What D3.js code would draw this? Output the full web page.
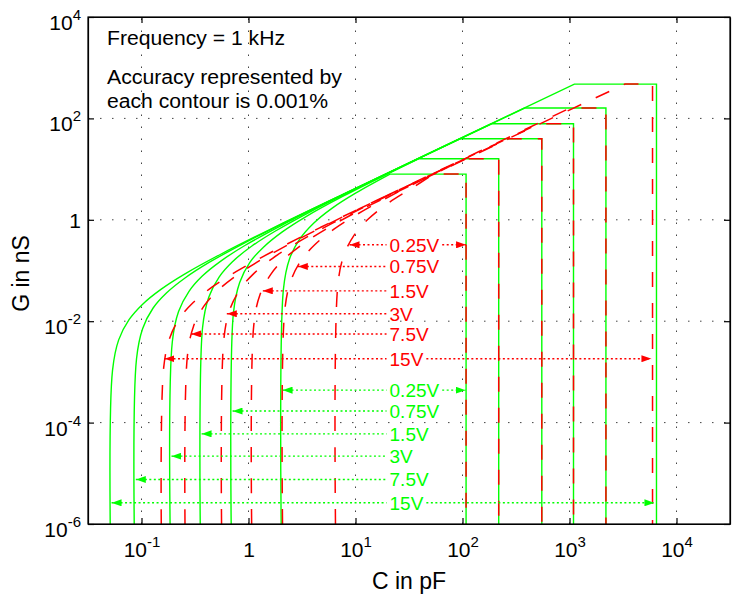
<!DOCTYPE html>
<html lang="en">
<head>
  <meta charset="UTF-8">
  <title>G vs C accuracy contours</title>
  <script src="https://d3js.org/d3.v7.min.js"></script>
  <style>
    body { margin: 0; background: #ffffff; }
    svg { font-family: "Liberation Sans", Arial, Helvetica, sans-serif; }
    .axis path, .axis line { stroke: #000; stroke-width: 1.2; }
    .axis text { fill: #000; font-size: 21px; }
    .grid line { stroke: #444; stroke-width: 1; stroke-dasharray: 1.5,10.5; }
    .green-contour { fill: none; stroke: #00ff00; stroke-width: 1.4; }
    .red-contour { fill: none; stroke: #ff0000; stroke-width: 1.5; stroke-dasharray: 15,16; }
    .arrow { stroke-width: 1.4; stroke-dasharray: 2,2.5; }
    .arrow-label { font-size: 19px; }
    .note { font-size: 20px; fill: #000; }
    .axis-title { font-size: 23px; fill: #000; }
  </style>
</head>
<body>
<script>
// voltages, one contour per voltage (same order everywhere below)
const voltages = ["0.25V", "0.75V", "1.5V", "3V", "7.5V", "15V"];

// green solid contours, points as [C in pF, G in nS]
const green025 = [[2.02, 1e-6], [2.12, 0.0424], [2.42, 0.17], [3.03, 0.424], [4.04, 0.848], [6.06, 1.70], [10.1, 3.39], [21.0, 7.97], [108, 7.97], [108, 1e-6]];
const green075 = [[0.689, 1e-6], [0.723, 0.0145], [0.827, 0.0579], [1.03, 0.145], [1.38, 0.289], [2.07, 0.579], [3.45, 1.16], [7.58, 2.89], [38.8, 16.0], [218, 16.0], [218, 1e-6]];
const green15 = [[0.354, 1e-6], [0.372, 0.00743], [0.425, 0.0297], [0.531, 0.0743], [0.708, 0.149], [1.06, 0.297], [1.77, 0.595], [3.89, 1.49], [11.0, 4.46], [94.6, 39.6], [551, 39.6], [551, 1e-6]];
const green3 = [[0.185, 1e-6], [0.194, 0.00389], [0.222, 0.0155], [0.278, 0.0389], [0.37, 0.0777], [0.555, 0.155], [0.925, 0.311], [2.04, 0.777], [5.74, 2.33], [18.7, 7.77], [187, 78.3], [1090, 78.3], [1090, 1e-6]];
const green7p5 = [[0.0855, 1e-6], [0.0898, 0.0018], [0.1026, 0.00718], [0.128, 0.018], [0.171, 0.0359], [0.257, 0.0718], [0.428, 0.144], [0.941, 0.359], [2.65, 1.08], [8.64, 3.59], [381, 160], [2190, 160], [2190, 1e-6]];
const green15V = [[0.051, 1e-6], [0.0536, 0.00107], [0.0612, 0.00428], [0.0765, 0.0107], [0.102, 0.0214], [0.153, 0.0428], [0.255, 0.0857], [0.561, 0.214], [1.58, 0.643], [5.15, 2.14], [1110, 475], [6500, 475], [6500, 1e-6]];

// red dashed contours, points as [C in pF, G in nS]
const red025 = [[6.5, 1e-6], [6.83, 0.0504], [7.8, 0.2015], [9.75, 0.504], [13.0, 1.01], [19.5, 2.02], [32.5, 4.03], [54, 7.97], [108, 7.97], [108, 1e-6]];
const red075 = [[2.08, 1e-6], [2.18, 0.0161], [2.5, 0.0645], [3.12, 0.161], [4.16, 0.322], [6.24, 0.645], [10.4, 1.29], [22.9, 3.22], [106, 16.0], [218, 16.0], [218, 1e-6]];
const red15 = [[1.07, 1e-6], [1.12, 0.0083], [1.28, 0.0332], [1.61, 0.083], [2.14, 0.166], [3.21, 0.332], [5.35, 0.663], [11.8, 1.66], [270, 39.6], [551, 39.6], [551, 1e-6]];
const red3 = [[0.56, 1e-6], [0.588, 0.00434], [0.672, 0.0174], [0.84, 0.0434], [1.12, 0.0868], [1.68, 0.174], [2.8, 0.347], [6.16, 0.868], [17.4, 2.6], [515, 78.3], [1090, 78.3], [1090, 1e-6]];
const red7p5 = [[0.255, 1e-6], [0.268, 0.00198], [0.306, 0.0079], [0.383, 0.0198], [0.51, 0.0395], [0.765, 0.079], [1.28, 0.158], [2.81, 0.395], [7.91, 1.19], [25.8, 3.95], [1010, 160], [2190, 160], [2190, 1e-6]];
const red15V = [[0.153, 1e-6], [0.161, 0.00119], [0.184, 0.00474], [0.23, 0.0119], [0.306, 0.0237], [0.459, 0.0474], [0.765, 0.0949], [1.68, 0.237], [4.74, 0.712], [15.5, 2.37], [3300, 475], [5970, 475], [5970, 1e-6]];

const greenContours = [green025, green075, green15, green3, green7p5, green15V];
const redContours = [red025, red075, red15, red3, red7p5, red15V];

// range arrows: G level, left end C, right end C (null = no right arrow)
const redArrowG = [0.321, 0.12, 0.0397, 0.014, 0.0056, 0.00182];
const redArrowLeft = [8.79, 2.89, 1.36, 0.627, 0.291, 0.164];
const redArrowRight = [108, null, null, null, null, 5830];
const greenArrowG = [4.37e-4, 1.69e-4, 6.0e-5, 2.18e-5, 7.55e-6, 2.62e-6];
const greenArrowLeft = [2.08, 0.709, 0.364, 0.1905, 0.0885, 0.0525];
const greenArrowRight = [106.8, null, null, null, null, 6220];
const labelC = 20.8;

// ticks
const xTicks = [0.1, 1, 10, 100, 1000, 10000];
const xTickLabels = ["10^-1", "1", "10^1", "10^2", "10^3", "10^4"];
const yTicks = [1e-6, 1e-4, 1e-2, 1, 1e2, 1e4];
const yTickLabels = ["10^-6", "10^-4", "10^-2", "1", "10^2", "10^4"];

const W = 749, H = 596;
const plotLeft = 88, plotRight = 730, plotTop = 17, plotBottom = 524;

const svg = d3.select("body").append("svg")
  .attr("width", W)
  .attr("height", H);

const x = d3.scaleLog().domain([Math.pow(10, -1.5), Math.pow(10, 4.5)]).range([plotLeft, plotRight]);
const y = d3.scaleLog().domain([1e-6, 1e4]).range([plotBottom, plotTop]);

// clip
svg.append("clipPath").attr("id", "plotclip")
  .append("rect")
  .attr("x", plotLeft).attr("y", plotTop)
  .attr("width", plotRight - plotLeft).attr("height", plotBottom - plotTop);

// grid
const grid = svg.append("g").attr("class", "grid");
grid.selectAll(".gx")
  .data(xTicks)
  .enter().append("line")
  .attr("x1", d => x(d)).attr("x2", d => x(d))
  .attr("y1", plotBottom).attr("y2", plotTop);
grid.selectAll(".gy")
  .data(yTicks.filter(d => d > 1e-6 && d < 1e4))
  .enter().append("line")
  .attr("x1", plotLeft).attr("x2", plotRight)
  .attr("y1", d => y(d)).attr("y2", d => y(d));

// markers
const defs = svg.append("defs");
[["arrowRed", "#ff0000"], ["arrowGreen", "#00ff00"]].forEach(function (m) {
  defs.append("marker")
    .attr("id", m[0])
    .attr("viewBox", "0 0 10 7")
    .attr("refX", 10).attr("refY", 3.5)
    .attr("markerWidth", 10).attr("markerHeight", 7)
    .attr("markerUnits", "userSpaceOnUse")
    .attr("orient", "auto-start-reverse")
    .append("path")
    .attr("d", "M0,0L10,3.5L0,7Z")
    .attr("fill", m[1]);
});

// contours
const curveLine = d3.line()
  .x(d => x(d[0]))
  .y(d => y(d[1]))
  .curve(d3.curveCatmullRom.alpha(0.5));

function contourPath(pts) {
  const curvePart = pts.slice(0, -2);
  const rest = pts.slice(-2).map(p => "L" + x(p[0]) + "," + y(p[1])).join("");
  return curveLine(curvePart) + rest;
}

const plot = svg.append("g").attr("clip-path", "url(#plotclip)");

plot.selectAll(".green-contour")
  .data(greenContours)
  .enter().append("path")
  .attr("class", "green-contour")
  .attr("d", contourPath);

plot.selectAll(".red-contour")
  .data(redContours)
  .enter().append("path")
  .attr("class", "red-contour")
  .attr("d", contourPath);

// arrows + labels
function drawArrows(gVals, lefts, rights, color, marker) {
  const g = svg.append("g");
  voltages.forEach(function (v, i) {
    const yy = y(gVals[i]);
    const lx = x(labelC);
    const label = g.append("text")
      .attr("class", "arrow-label")
      .attr("x", lx)
      .attr("y", yy + 6.8)
      .attr("fill", color)
      .text(v);
    const tw = label.node().getComputedTextLength();

    g.append("line")
      .attr("class", "arrow")
      .attr("stroke", color)
      .attr("x1", x(lefts[i])).attr("x2", lx - 3)
      .attr("y1", yy).attr("y2", yy)
      .attr("marker-start", "url(#" + marker + ")");

    if (rights[i] !== null) {
      g.append("line")
        .attr("class", "arrow")
        .attr("stroke", color)
        .attr("x1", lx + tw + 3).attr("x2", x(rights[i]))
        .attr("y1", yy).attr("y2", yy)
        .attr("marker-end", "url(#" + marker + ")");
    }
  });
}

drawArrows(redArrowG, redArrowLeft, redArrowRight, "#ff0000", "arrowRed");
drawArrows(greenArrowG, greenArrowLeft, greenArrowRight, "#00ff00", "arrowGreen");

// axes
function powerLabel(sel, labels, ticks) {
  sel.selectAll(".tick text").each(function (d) {
    const t = d3.select(this);
    const lab = labels[ticks.indexOf(d)];
    t.text(null);
    const parts = lab.split("^");
    t.append("tspan").text(parts[0]);
    if (parts.length > 1) {
      t.append("tspan")
        .attr("dy", -10)
        .style("font-size", "15px")
        .text(parts[1]);
    }
  });
}

const xAxis = svg.append("g")
  .attr("class", "axis")
  .attr("transform", "translate(0," + plotBottom + ")")
  .call(d3.axisBottom(x).tickValues(xTicks).tickSizeInner(-6).tickSizeOuter(0));
xAxis.selectAll(".tick text").attr("y", 33).attr("dy", 0);
powerLabel(xAxis, xTickLabels, xTicks);

svg.append("g")
  .attr("class", "axis")
  .attr("transform", "translate(0," + plotTop + ")")
  .call(d3.axisTop(x).tickValues(xTicks).tickSizeInner(-6).tickSizeOuter(0).tickFormat(""));

const yAxis = svg.append("g")
  .attr("class", "axis")
  .attr("transform", "translate(" + plotLeft + ",0)")
  .call(d3.axisLeft(y).tickValues(yTicks).tickSizeInner(-6).tickSizeOuter(0));
yAxis.selectAll(".tick text")
  .attr("x", -7)
  .attr("dy", 0)
  .attr("y", d => d === 1 ? 7.5 : 12.5);
powerLabel(yAxis, yTickLabels, yTicks);

svg.append("g")
  .attr("class", "axis")
  .attr("transform", "translate(" + plotRight + ",0)")
  .call(d3.axisRight(y).tickValues(yTicks).tickSizeInner(-6).tickSizeOuter(0).tickFormat(""));

// frame
svg.append("rect")
  .attr("x", plotLeft).attr("y", plotTop)
  .attr("width", plotRight - plotLeft).attr("height", plotBottom - plotTop)
  .attr("fill", "none")
  .attr("stroke", "#000")
  .attr("stroke-width", 1.2);

// notes
svg.append("text").attr("class", "note")
  .attr("x", 107).attr("y", 45)
  .attr("textLength", 178).attr("lengthAdjust", "spacingAndGlyphs")
  .text("Frequency = 1 kHz");
svg.append("text").attr("class", "note")
  .attr("x", 107).attr("y", 83.5)
  .attr("textLength", 235).attr("lengthAdjust", "spacingAndGlyphs")
  .text("Accuracy represented by");
svg.append("text").attr("class", "note")
  .attr("x", 107).attr("y", 108)
  .attr("textLength", 221).attr("lengthAdjust", "spacingAndGlyphs")
  .text("each contour is 0.001%");

// axis titles
svg.append("text").attr("class", "axis-title")
  .attr("x", (plotLeft + plotRight) / 2).attr("y", 589)
  .attr("text-anchor", "middle")
  .text("C in pF");

svg.append("text").attr("class", "axis-title")
  .attr("transform", "translate(29," + ((plotTop + plotBottom) / 2 + 3) + ") rotate(-90)")
  .attr("text-anchor", "middle")
  .text("G in nS");
</script>
</body>
</html>
